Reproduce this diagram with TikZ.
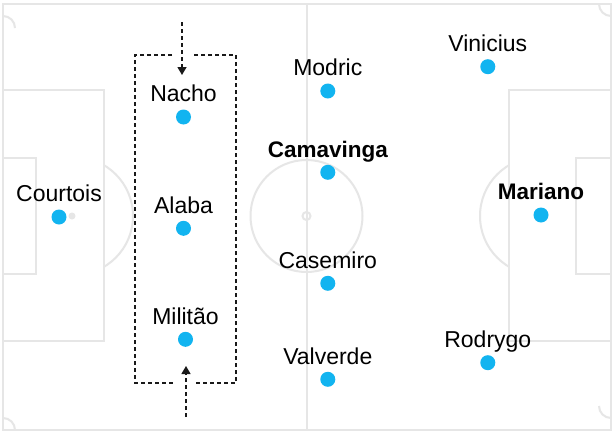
\documentclass[tikz,border=0pt]{standalone}
\usepackage{fontspec}
\setmainfont{Liberation Sans}
\usetikzlibrary{arrows.meta}
\definecolor{pitchline}{RGB}{230,230,230}
\definecolor{dotblue}{RGB}{18,180,240}
\definecolor{ink}{RGB}{25,25,25}
\tikzset{
  pitch/.style={draw=pitchline, line width=2pt},
  dot/.style={circle, fill=dotblue, minimum size=15pt, inner sep=0pt},
  lbl/.style={font=\fontsize{23pt}{25pt}\selectfont, text=black, inner sep=0pt, anchor=base},
  blbl/.style={lbl, font=\fontsize{22.5pt}{25pt}\selectfont\bfseries},
  dashbox/.style={draw=ink, line width=1.4pt, dash pattern=on 4pt off 3pt},
  dasharrow/.style={dashbox, -{Triangle[width=9pt,length=8pt]}}
}
\begin{document}
\begin{tikzpicture}[x=1pt,y=-1pt]
\useasboundingbox (0,0) rectangle (614,434);
\fill[white] (0,0) rectangle (614,434);
% pitch
\draw[pitch] (3,4) rectangle (611,430);
\draw[pitch] (306.5,4) -- (306.5,430);
\draw[pitch] (306.5,216) circle (56);
\draw[pitch] (306.5,216) circle (4);
\draw[pitch] (3,90) rectangle (104,341);
\draw[pitch] (3,158) rectangle (36,274);
\draw[pitch] (509,90) rectangle (611,341);
\draw[pitch] (576,158) rectangle (611,274);
\fill[pitchline] (72,216) circle (3.5);
\fill[pitchline] (541,216) circle (3.5);
\begin{scope}
\clip (104,0) rectangle (200,434);
\draw[pitch] (74,216) circle (59);
\end{scope}
\begin{scope}
\clip (400,0) rectangle (509,434);
\draw[pitch] (539,216) circle (59);
\end{scope}
\draw[pitch] (3,16) arc[start angle=-90, end angle=0, radius=12];
\draw[pitch] (599,4) arc[start angle=180, end angle=90, radius=12];
\draw[pitch] (15,430) arc[start angle=0, end angle=-90, radius=12];
\draw[pitch] (611,418) arc[start angle=90, end angle=180, radius=12];
% dashed box
\draw[dashbox] (172,55) -- (135,55) -- (135,383) -- (175,383);
\draw[dashbox] (196,383) -- (236,383) -- (236,55) -- (194,55);
\coordinate (topS) at (182,22);
\coordinate (topE) at (182,75);
\coordinate (botS) at (186,417);
\coordinate (botE) at (186,366);
\draw[dasharrow] (topS) -- (topE);
\draw[dasharrow] (botS) -- (botE);
% players
\node[dot] (courtois) at (59,217) {};
\node[dot] (nacho) at (183.5,117) {};
\node[dot] (alaba) at (183.5,228.3) {};
\node[dot] (militao) at (185.5,339.3) {};
\node[dot] (modric) at (327.8,91) {};
\node[dot] (camavinga) at (327.8,172.3) {};
\node[dot] (casemiro) at (327.8,283.3) {};
\node[dot] (valverde) at (327.8,379.3) {};
\node[dot] (vinicius) at (487.8,66.7) {};
\node[dot] (mariano) at (541,215) {};
\node[dot] (rodrygo) at (487.8,362.7) {};
\node[lbl] (tcourtois) at ([yshift=15.3pt]courtois) {Courtois};
\node[lbl] (tnacho) at ([yshift=15.3pt]nacho) {Nacho};
\node[lbl] (talaba) at ([yshift=15.3pt]alaba) {Alaba};
\node[lbl] (tmilitao) at ([yshift=15.3pt]militao) {Militão};
\node[lbl] (tmodric) at ([yshift=15.3pt]modric) {Modric};
\node[blbl] (tcamavinga) at ([yshift=14.5pt]camavinga) {Camavinga};
\node[lbl] (tcasemiro) at ([yshift=15.3pt]casemiro) {Casemiro};
\node[lbl] (tvalverde) at ([yshift=15.3pt]valverde) {Valverde};
\node[lbl] (tvinicius) at ([yshift=15.3pt]vinicius) {Vinicius};
\node[blbl] (tmariano) at ([yshift=15.3pt]mariano) {Mariano};
\node[lbl] (trodrygo) at ([yshift=15.3pt]rodrygo) {Rodrygo};
\end{tikzpicture}
\end{document}
